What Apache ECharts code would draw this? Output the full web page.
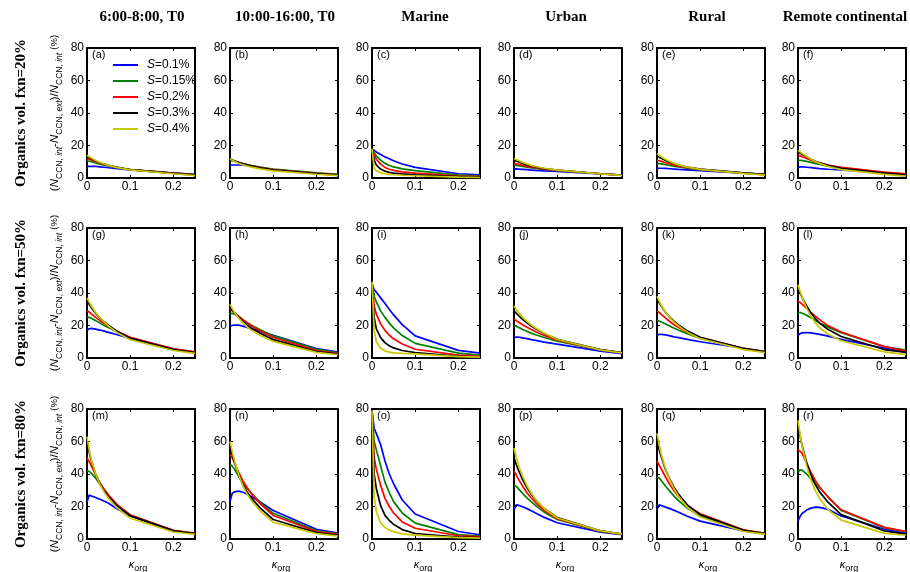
<!DOCTYPE html>
<html><head><meta charset="utf-8">
<script src="https://cdn.jsdelivr.net/npm/echarts@6/dist/echarts.min.js"></script>
<style>html,body{margin:0;padding:0;background:#fff}#c{width:910px;height:572px}</style>
</head><body><div id="c"></div>
<script>
// x values (kappa_org)
const kappa = [0, 0.005, 0.01, 0.02, 0.03, 0.04, 0.05, 0.07, 0.1, 0.2, 0.25];
const seriesNames = ['S=0.1%', 'S=0.15%', 'S=0.2%', 'S=0.3%', 'S=0.4%'];
const columnTitles = ['6:00-8:00, T0', '10:00-16:00, T0', 'Marine', 'Urban', 'Rural', 'Remote continental'];
const rowTitles = ['Organics vol. fxn=20%', 'Organics vol. fxn=50%', 'Organics vol. fxn=80%'];
const panelLetters = ['a','b','c','d','e','f','g','h','i','j','k','l','m','n','o','p','q','r'];
const yTicks = [0, 80, 20];   // min, max, step
const xTicks = [0, 0.25, 0.1];

// each panel: rows = S=0.1%, 0.15%, 0.2%, 0.3%, 0.4%
const pa = [
  [7, 7.2, 7.2, 7.1, 6.9, 6.6, 6.3, 5.8, 5.0, 3.0, 2.2],
  [10.5, 10.3, 10, 9.2, 8.5, 7.9, 7.4, 6.4, 5.2, 3.0, 2.2],
  [12, 11.6, 11.1, 10, 9.1, 8.4, 7.7, 6.5, 5.2, 3.0, 2.0],
  [13, 12.4, 11.8, 10.5, 9.4, 8.5, 7.8, 6.5, 5.1, 2.8, 1.8],
  [14, 13.1, 12.3, 10.8, 9.6, 8.6, 7.8, 6.4, 5.0, 2.6, 1.5]];
const pb = [
  [8, 8, 8, 8, 7.9, 7.6, 7.2, 6.4, 5.2, 2.9, 2.0],
  [11, 10.7, 10.3, 9.6, 8.9, 8.3, 7.7, 6.7, 5.5, 3.2, 2.3],
  [11.5, 11, 10.5, 9.6, 8.8, 8.1, 7.5, 6.4, 5.1, 2.9, 2.0],
  [11.8, 11.2, 10.6, 9.5, 8.7, 8.0, 7.3, 6.2, 4.9, 2.7, 1.8],
  [12, 11.1, 10.3, 9.1, 8.1, 7.3, 6.7, 5.6, 4.4, 2.3, 1.5]];
const pc = [
  [18, 17, 16, 14.5, 13, 11.8, 10.6, 8.6, 6.5, 2.6, 2.0],
  [18, 15.5, 13.5, 11, 9, 7.7, 6.8, 5.6, 4.5, 1.8, 1.2],
  [18, 14, 11.5, 8.5, 6.5, 5.4, 4.7, 3.8, 3.0, 1.2, 0.8],
  [18, 11, 8, 5.5, 4.2, 3.5, 3.0, 2.5, 2.0, 0.8, 0.5],
  [18, 6, 4.5, 3.2, 2.6, 2.2, 2.0, 1.7, 1.4, 0.5, 0.3]];
const pd = [
  [5.5, 5.6, 5.5, 5.3, 5.1, 4.9, 4.7, 4.4, 4.0, 2.5, 1.8],
  [8, 7.8, 7.6, 7.1, 6.6, 6.2, 5.9, 5.3, 4.6, 2.6, 1.8],
  [9, 8.7, 8.4, 7.8, 7.2, 6.7, 6.3, 5.5, 4.7, 2.6, 1.8],
  [11, 10.5, 10, 9, 8.1, 7.4, 6.8, 5.8, 4.8, 2.6, 1.7],
  [12, 11.4, 10.8, 9.6, 8.6, 7.8, 7.1, 6.0, 4.8, 2.5, 1.6]];
const pe = [
  [6, 6, 6, 5.9, 5.7, 5.5, 5.3, 5.0, 4.5, 3.0, 2.2],
  [9, 8.9, 8.7, 8.2, 7.7, 7.2, 6.8, 6.0, 5.2, 3.0, 2.2],
  [11, 10.6, 10.2, 9.4, 8.6, 7.9, 7.3, 6.3, 5.3, 3.0, 2.1],
  [13.5, 12.8, 12.1, 10.8, 9.7, 8.8, 8.0, 6.7, 5.5, 3.1, 2.1],
  [15, 14, 13, 11.4, 10.1, 9.0, 8.1, 6.7, 5.3, 2.8, 1.8]];
const pf = [
  [6.5, 6.8, 6.8, 6.6, 6.4, 6.1, 5.8, 5.4, 5.0, 3.0, 2.2],
  [11, 10.9, 10.7, 10.2, 9.6, 9.0, 8.4, 7.3, 6.2, 3.4, 2.4],
  [14, 13.6, 13.1, 12, 11, 10.1, 9.3, 8.0, 6.6, 3.6, 2.6],
  [16, 15.3, 14.5, 13, 11.5, 10.3, 9.3, 7.6, 6.0, 3.0, 2.0],
  [17, 16, 15, 13.2, 11.6, 10.2, 9.0, 7.1, 5.2, 2.2, 1.2]];
const pg = [
  [17, 18, 18.2, 17.8, 17.2, 16.5, 15.8, 14.3, 12, 5.5, 3.5],
  [25, 25, 24.4, 23, 21.5, 20, 18.7, 16, 12.5, 5.5, 3.5],
  [29, 28.3, 27.2, 25, 23, 21.2, 19.6, 16.5, 12.8, 5.7, 3.8],
  [35, 33, 31, 27.5, 24.6, 22.2, 20, 16.3, 12.2, 5.2, 3.3],
  [37, 34.5, 32, 28, 24.8, 22, 19.6, 15.6, 11.2, 4.6, 2.8]];
const ph = [
  [19.5, 20, 20.3, 20.2, 19.6, 18.8, 18, 16.4, 14, 5.8, 3.6],
  [27, 27.5, 27, 25.5, 23.6, 21.8, 20.2, 17.4, 13.6, 5.3, 3.2],
  [30, 29, 28, 25.7, 23.4, 21.4, 19.7, 16.6, 12.6, 4.6, 2.7],
  [31, 29.5, 28, 25, 22.4, 20.2, 18.3, 15.2, 11.3, 4.0, 2.4],
  [33, 30.5, 28.2, 24.5, 21.6, 19, 17, 13.8, 10.2, 3.5, 2.0]];
const pi = [
  [46, 42, 40.5, 37, 33.5, 30, 26.5, 20.5, 13.6, 4.7, 3.0],
  [46, 38, 34.5, 29, 25, 21.5, 18.5, 13.8, 9, 3.0, 1.8],
  [46, 32, 27, 21, 17, 14, 11.8, 8.6, 5.4, 1.8, 1.0],
  [46, 25, 18, 12.5, 9.5, 7.5, 6.2, 4.6, 3.3, 1.0, 0.6],
  [47, 17, 10, 6, 4.4, 3.6, 3.1, 2.8, 2.5, 0.8, 0.5]];
const pj = [
  [12.5, 12.8, 12.8, 12.4, 11.9, 11.3, 10.8, 9.8, 8.5, 4.2, 2.6],
  [20, 19.5, 18.9, 17.6, 16.4, 15.3, 14.3, 12.6, 10.3, 5.0, 3.2],
  [24, 23, 22.2, 20.5, 18.9, 17.5, 16.2, 13.8, 10.9, 5.0, 3.2],
  [29, 27.6, 26.3, 23.8, 21.6, 19.7, 18, 15, 11.5, 5.2, 3.3],
  [32, 30, 28.2, 25, 22.5, 20.3, 18.4, 15.2, 11.4, 5.0, 3.2]];
const pk = [
  [14, 14.5, 14.5, 14.2, 13.6, 13, 12.5, 11.5, 10, 6, 4],
  [23, 22.7, 22.2, 20.9, 19.6, 18.3, 17.1, 15, 12, 6, 4],
  [29, 28, 26.8, 24.5, 22.3, 20.4, 18.7, 15.8, 12.6, 6, 4],
  [36, 34, 31.8, 28, 25, 22.5, 20.3, 16.7, 12.8, 5.8, 3.8],
  [38, 35, 32.3, 28, 24.7, 22, 19.7, 15.9, 11.9, 5.2, 3.4]];
const pl = [
  [14, 15, 15.5, 15.7, 15.5, 15, 14.5, 13.5, 11.5, 6.0, 4.2],
  [28, 28, 27.5, 26.3, 24.8, 23.2, 21.6, 19, 15.5, 7, 4.8],
  [35, 34.2, 33, 30.5, 28, 25.7, 23.6, 19.8, 16, 7, 4.3],
  [43, 40, 37, 32, 27.7, 24.3, 21.5, 17.5, 13.2, 5.2, 3.5],
  [45, 41, 37, 30.5, 25.6, 21.6, 18.6, 14.6, 10.6, 3.8, 2.1]];
const pm = [
  [23, 27, 26.5, 25.5, 24.5, 23.2, 22, 18.5, 14.2, 5.0, 3.4],
  [42, 41.6, 40.5, 37.5, 33.5, 30, 26.8, 21, 14.8, 5.2, 3.5],
  [50, 47.5, 45, 39.5, 34.7, 30.5, 27, 21, 14.8, 5.3, 3.5],
  [60, 53.5, 48, 40, 34, 29.5, 26, 20.2, 14.3, 5, 3.3],
  [63, 55, 48.8, 40, 33.6, 28.8, 25, 19, 12.8, 4.3, 2.8]];
const pn = [
  [23, 28, 29, 29.5, 28.8, 27.5, 26, 22.8, 17.5, 6.0, 3.6],
  [46, 45, 43, 38.5, 34.5, 31, 28, 22.5, 15.8, 5.0, 3.1],
  [52, 50, 47, 41, 35.8, 31.5, 27.8, 21.6, 14.5, 4.6, 2.8],
  [57, 52, 47.5, 39.5, 33.4, 28.7, 25, 19, 12, 3.9, 2.2],
  [60, 54, 48.5, 39.5, 32.7, 27.5, 23.5, 17.2, 10.3, 3.3, 1.8]];
const po = [
  [79, 68, 65, 58, 48, 40, 34, 24, 15.4, 4.6, 2.6],
  [79, 60, 55, 45, 35, 28.5, 23, 16, 9.8, 2.7, 1.8],
  [79, 50, 43, 33, 25, 20, 16, 10.5, 6.6, 2.0, 1.3],
  [79, 40, 31, 20.5, 14.5, 11.5, 9, 5.8, 3.4, 1.2, 0.8],
  [79, 26, 17, 10, 7, 5.5, 4.5, 3.2, 2.4, 0.8, 0.5]];
const pp = [
  [18, 21, 20.8, 19.8, 18.7, 17.4, 16, 13.3, 10, 4.2, 2.6],
  [33, 32.5, 31, 28, 25.3, 22.8, 20.5, 16.5, 12, 4.6, 2.8],
  [42, 39.5, 37, 32.5, 28.5, 25.2, 22.3, 17.5, 12.5, 4.8, 3.0],
  [50, 46, 42.5, 36.5, 31.6, 27.5, 24, 18.6, 13.2, 5, 3],
  [56, 50.5, 45.8, 38.5, 32.8, 28.2, 24.4, 18.6, 12.9, 5, 3]];
const pq = [
  [18, 21, 20.6, 19.6, 18.7, 17.6, 16.5, 14, 11, 5, 3.2],
  [38, 37.5, 36, 32.5, 29.3, 26.2, 23.6, 19, 14, 5.3, 3.3],
  [48, 45.5, 43, 38, 33.3, 29.4, 26, 20.5, 15.5, 5.6, 3.5],
  [60, 55, 50.5, 42.5, 36.5, 31.5, 27.5, 21, 15, 5.3, 3.3],
  [65, 58, 52, 43, 36, 30.6, 26.3, 19.6, 13.5, 4.6, 3]];
const pr = [
  [11, 14, 15.8, 17.8, 19, 19.6, 19.5, 18.2, 14.2, 6.0, 3.5],
  [41, 42.5, 42.2, 40, 37, 34.2, 31.5, 26, 17.5, 7.0, 4.5],
  [55, 54, 52.5, 46.5, 41, 36, 32, 25.5, 18, 7.2, 4.6],
  [70, 63, 57, 47, 39.4, 33.5, 29, 22.5, 15, 5, 3],
  [73, 64, 56.5, 45, 36.3, 29.8, 25, 18, 11.6, 3.5, 2.3]];

const panels = [pa, pb, pc, pd, pe, pf, pg, ph, pi, pj, pk, pl, pm, pn, po, pp, pq, pr];

// ---- styling / layout ----
const seriesColors = ['#0000ff', '#008000', '#ff0000', '#000000', '#c8c800'];
const colLeft = [87, 230, 372, 514, 657, 798];
const rowTop = [48, 228, 409];
const PW = 108, PH = 130;
const SANS = 'Liberation Sans, Arial, sans-serif';
const SERIF = 'Liberation Serif, Times New Roman, serif';

const grids = [], xAxes = [], yAxes = [], series = [], graphics = [];
panels.forEach((p, i) => {
  const col = i % 6, row = Math.floor(i / 6);
  grids.push({ left: colLeft[col], top: rowTop[row], width: PW, height: PH, show: false });
  const axLine = { show: true, onZero: false, lineStyle: { color: '#000', width: 2 } };
  const tick = { show: true, inside: true, length: 3, lineStyle: { color: '#000', width: 1 } };
  xAxes.push({
    type: 'value', gridIndex: i, position: 'bottom', min: xTicks[0], max: xTicks[1], interval: xTicks[2],
    axisLine: axLine, axisTick: tick, splitLine: { show: false },
    axisLabel: { show: true, color: '#000', fontFamily: SANS, fontSize: 12, margin: 3, showMaxLabel: false,
      formatter: v => (v > 0.24 ? '' : String(v)) }
  });
  xAxes.push({
    type: 'value', gridIndex: i, position: 'top', min: xTicks[0], max: xTicks[1], interval: xTicks[2],
    axisLine: axLine, axisTick: tick, splitLine: { show: false }, axisLabel: { show: false }
  });
  yAxes.push({
    type: 'value', gridIndex: i, position: 'left', min: yTicks[0], max: yTicks[1], interval: yTicks[2],
    axisLine: axLine, axisTick: tick, splitLine: { show: false },
    axisLabel: { show: true, color: '#000', fontFamily: SANS, fontSize: 12, margin: 3 }
  });
  yAxes.push({
    type: 'value', gridIndex: i, position: 'right', min: yTicks[0], max: yTicks[1], interval: yTicks[2],
    axisLine: axLine, axisTick: tick, splitLine: { show: false }, axisLabel: { show: false }
  });
  p.forEach((vals, s) => {
    series.push({
      type: 'line', name: seriesNames[s], xAxisIndex: 2 * i, yAxisIndex: 2 * i,
      data: kappa.map((x, j) => [x, vals[j]]),
      symbol: 'none', showSymbol: false, smooth: false, silent: true, z: 2 + s,
      lineStyle: { color: seriesColors[s], width: 1.7 }, itemStyle: { color: seriesColors[s] }
    });
  });
  graphics.push({
    type: 'text', left: colLeft[col] + 5, top: rowTop[row] + 1, silent: true,
    style: { text: '(' + panelLetters[i] + ')', font: '11px ' + SANS, fill: '#000' }
  });
});

const titleCenters = [142, 285, 425, 566, 707, 845];
columnTitles.forEach((t, c) => {
  graphics.push({ type: 'text', x: titleCenters[c], y: 17, silent: true,
    style: { text: t, font: 'bold 15px ' + SERIF, fill: '#000', align: 'center', verticalAlign: 'middle' } });
});
const richY = {
  m: { fontFamily: SANS, fontSize: 11.5, lineHeight: 12, verticalAlign: 'top', fill: '#000' },
  it: { fontFamily: SANS, fontSize: 11.5, fontStyle: 'italic', lineHeight: 12, verticalAlign: 'top', fill: '#000' },
  sub: { fontFamily: SANS, fontSize: 8.5, lineHeight: 9, padding: [6, 0, 0, 0], verticalAlign: 'top', fill: '#000' },
  subi: { fontFamily: SANS, fontSize: 8.5, fontStyle: 'italic', lineHeight: 9, padding: [6, 0, 0, 0], verticalAlign: 'top', fill: '#000' },
  sup: { fontFamily: SANS, fontSize: 9.5, lineHeight: 10, verticalAlign: 'top', fill: '#000' }
};
const yLabel = '{m|(}{it|N}{sub|CCN, }{subi|int}{m|-}{it|N}{sub|CCN, }{subi|ext}{m|)/}{it|N}{sub|CCN, }{subi|int}{m| }{sup|(%)}';
rowTitles.forEach((t, r) => {
  const cy = rowTop[r] + PH / 2;
  graphics.push({ type: 'text', x: 21, y: cy, rotation: Math.PI / 2, silent: true,
    style: { text: t, font: 'bold 15px ' + SERIF, fill: '#000', align: 'center', verticalAlign: 'middle' } });
  graphics.push({ type: 'text', x: 55, y: cy, rotation: Math.PI / 2, silent: true,
    style: { text: yLabel, rich: richY, fill: '#000', align: 'center', verticalAlign: 'middle' } });
});
colLeft.forEach((l) => {
  graphics.push({ type: 'text', x: l + PW / 2 - 3, y: 565, silent: true,
    style: { text: '{k|κ}{sub|org}', fill: '#000', align: 'center', verticalAlign: 'middle',
      rich: { k: { fontFamily: SANS, fontSize: 11, fontStyle: 'italic', lineHeight: 11, verticalAlign: 'top', fill: '#000' },
              sub: { fontFamily: SANS, fontSize: 9, lineHeight: 9, padding: [5, 0, 0, 0], verticalAlign: 'top', fill: '#000' } } } });
});

const chart = echarts.init(document.getElementById('c'), null, { renderer: 'canvas' });
chart.setOption({
  animation: false,
  backgroundColor: '#fff',
  grid: grids, xAxis: xAxes, yAxis: yAxes, series: series,
  legend: {
    data: seriesNames, orient: 'vertical', left: 113, top: 57, itemWidth: 25, itemHeight: 2, itemGap: 0,
    icon: 'rect', selectedMode: false, padding: 0,
    formatter: n => '{i|S}{t|' + n.slice(1) + '}',
    textStyle: { color: '#000', fontFamily: SANS, fontSize: 12, lineHeight: 16,
      rich: { i: { fontStyle: 'italic', fontFamily: SANS, fontSize: 12, padding: [0, 0, 0, 4] },
              t: { fontFamily: SANS, fontSize: 12 } } }
  },
  graphic: graphics
});
</script></body></html>
